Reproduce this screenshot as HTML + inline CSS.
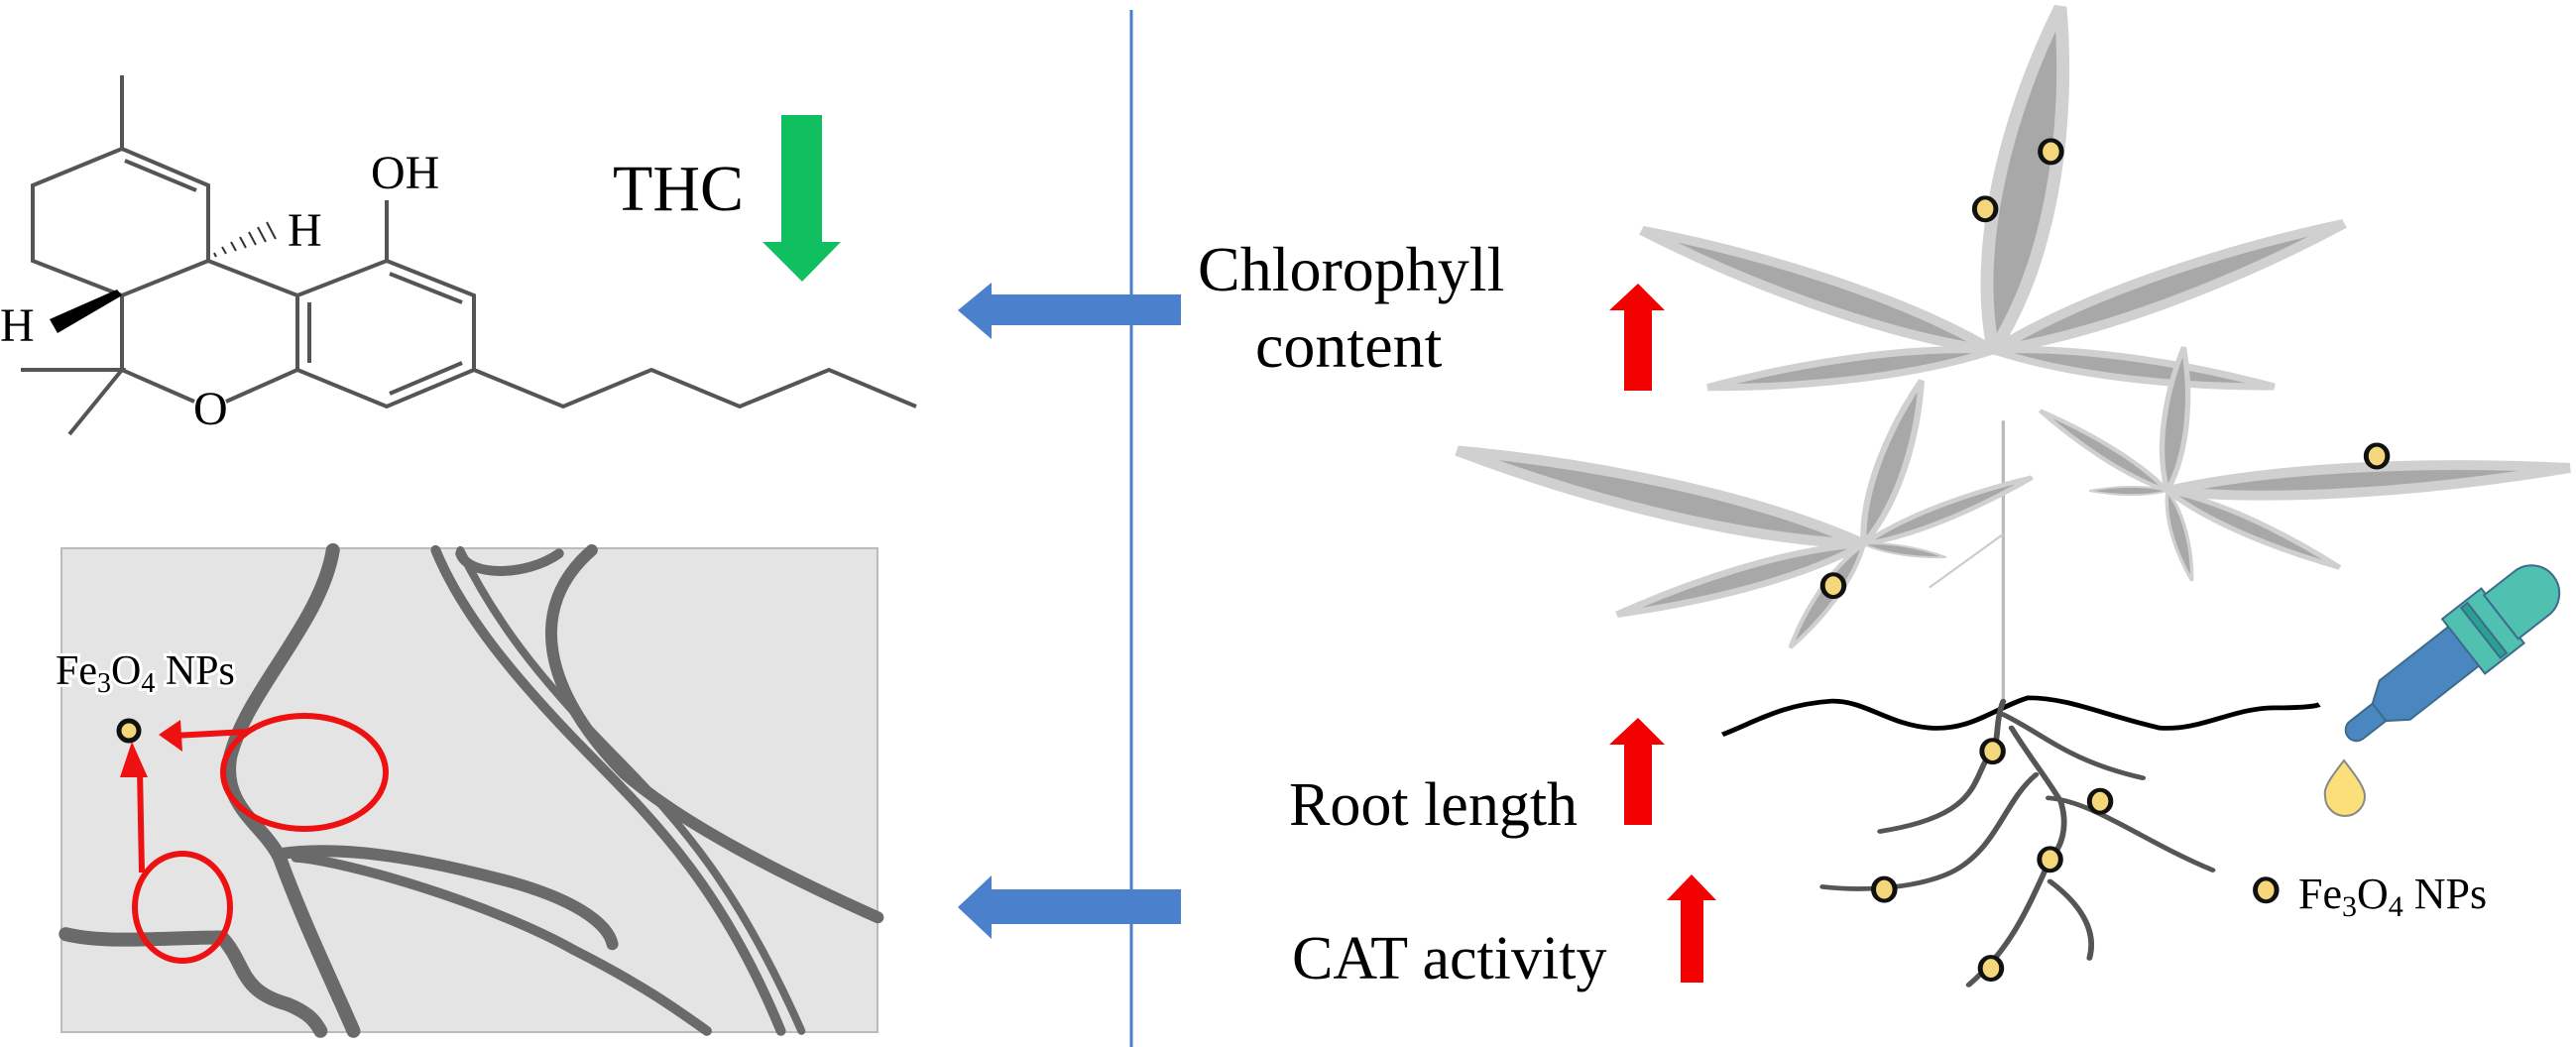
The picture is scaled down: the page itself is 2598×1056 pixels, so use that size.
<!DOCTYPE html>
<html><head><meta charset="utf-8"><style>
html,body{margin:0;padding:0;background:#fff}
svg{display:block}
text{font-family:"Liberation Serif",serif;fill:#000}
</style></head><body>
<svg width="2598" height="1056" viewBox="0 0 2598 1056" xmlns="http://www.w3.org/2000/svg">
<!-- molecule -->
<g stroke="#555" stroke-width="4" fill="none">
<polyline points="123,76 123,150 33,187 33,263 123,298 210,263 210,187 123,150"/>
<line x1="126" y1="162" x2="198" y2="192"/>
<line x1="123" y1="298" x2="123" y2="373"/>
<line x1="210" y1="263" x2="300" y2="298"/>
<polyline points="21,373 123,373 70,438"/>
<polyline points="123,373 196,405"/>
<polyline points="228,405 300,373 300,298 390,263 478,298 478,373 390,410 300,373"/>
<line x1="312" y1="305" x2="312" y2="366"/>
<line x1="393" y1="276" x2="466" y2="305"/>
<line x1="393" y1="397" x2="466" y2="366"/>
<line x1="390" y1="263" x2="390" y2="202"/>
<polyline points="478,373 568,410 657,373 746,410 836,373 924,410"/>
</g>
<polygon points="123,298 118,292 50,322 58,336" fill="#000"/>
<g stroke="#333" stroke-width="2">
<line x1="218" y1="259" x2="216" y2="255"/><line x1="228" y1="256" x2="224" y2="249"/><line x1="238" y1="253" x2="233" y2="244"/><line x1="248" y1="250" x2="242" y2="239"/><line x1="258" y1="247" x2="251" y2="234"/><line x1="268" y1="244" x2="260" y2="229"/><line x1="278" y1="241" x2="269" y2="224"/>
</g>
<text x="290" y="248" font-size="48">H</text>
<text x="0" y="344" font-size="48">H</text>
<text x="374" y="190" font-size="48">OH</text>
<text x="195" y="428" font-size="48">O</text>
<text x="618" y="212" font-size="66">THC</text>
<polygon points="788,116 829,116 829,244 848,244 809,284 769,244 788,244" fill="#10c060"/>
<!-- divider -->
<line x1="1141" y1="10" x2="1141" y2="1056" stroke="#4a7fc8" stroke-width="3"/>
<g fill="#4a80cc">
<polygon points="1191,297 1000,297 1000,285 966,313 1000,342 1000,328 1191,328"/>
<polygon points="1191,897 1000,897 1000,883 966,915 1000,947 1000,932 1191,932"/>
</g>
<!-- TEM image -->
<rect x="62" y="553" width="823" height="488" fill="#e4e4e4" stroke="#bbb" stroke-width="2"/>
<g transform="translate(0,528) scale(0.829,0.3367)" fill="none" stroke="#6a6a6a" stroke-linecap="round">
<path vector-effect="non-scaling-stroke" stroke-width="14" d="M405,80 C390,300 300,500 280,700 C270,850 320,900 340,1000 C370,1200 400,1350 430,1520"/>
<path vector-effect="non-scaling-stroke" stroke-width="10" d="M530,80 C560,260 620,450 720,700 C800,900 880,1100 950,1520"/>
<path vector-effect="non-scaling-stroke" stroke-width="8" d="M560,80 C600,280 650,450 750,700 C830,900 900,1100 975,1520"/>
<path vector-effect="non-scaling-stroke" stroke-width="12" d="M720,80 C640,250 660,500 760,750 C830,900 950,1050 1068,1180"/>
<path vector-effect="non-scaling-stroke" stroke-width="10" d="M560,90 C570,160 640,160 680,90"/>
<path vector-effect="non-scaling-stroke" stroke-width="12" d="M340,990 C420,960 520,1010 600,1060 C700,1120 740,1200 745,1260"/>
<path vector-effect="non-scaling-stroke" stroke-width="10" d="M360,1000 C420,1010 600,1140 700,1280 C780,1380 820,1450 860,1520"/>
<path vector-effect="non-scaling-stroke" stroke-width="14" d="M80,1230 C130,1260 200,1240 270,1240 C300,1320 290,1400 350,1440 C380,1470 385,1500 390,1520"/>
</g>
<g fill="none" stroke="#ee1111" stroke-width="6">
<ellipse cx="307" cy="779" rx="82" ry="57"/>
<ellipse cx="184" cy="915" rx="48" ry="54"/>
<line x1="249" y1="738" x2="175" y2="742"/>
<line x1="143" y1="880" x2="141" y2="775"/>
</g>
<polygon points="160,741 182,726 184,758" fill="#ee1111"/>
<polygon points="133,748 121,784 149,784" fill="#ee1111"/>
<circle cx="130" cy="737" r="10" fill="#f3d77a" stroke="#111" stroke-width="5"/>
<text x="56" y="690" font-size="42" stroke="#fff" stroke-width="6" paint-order="stroke">Fe<tspan font-size="28" dy="8">3</tspan><tspan dy="-8">O</tspan><tspan font-size="28" dy="8">4</tspan><tspan dy="-8"> NPs</tspan></text>
<!-- right labels -->
<text x="1208" y="293" font-size="64">Chlorophyll</text>
<text x="1266" y="370" font-size="64">content</text>
<text x="1300" y="832" font-size="62">Root length</text>
<text x="1303" y="987" font-size="62">CAT activity</text>
<g fill="#f30000">
<polygon points="1638,394 1666,394 1666,313 1679,313 1652,286 1623,313 1638,313"/>
<polygon points="1638,832 1666,832 1666,751 1679,751 1652,724 1623,751 1638,751"/>
<polygon points="1695,991 1718,991 1718,908 1731,908 1706,882 1681,908 1695,908"/>
</g>
<!-- plant -->
<g transform="translate(1300,0) scale(0.828,0.6735)">
<line x1="870" y1="630" x2="870" y2="1060" stroke="#bbb" stroke-width="4"/>
<line x1="870" y1="800" x2="780" y2="880" stroke="#ccc" stroke-width="3"/>
<g fill="#a8a8a8" stroke="#d0d0d0" stroke-width="3">
<g transform="translate(858,525)">
<path transform="rotate(-81) scale(5.21)" d="M0,0 C30,-10 70,-7 100,0 C70,7 30,10 0,0"/>
<path transform="rotate(202.8) scale(4.64)" d="M0,0 C30,-7 70,-5 100,0 C70,5 30,7 0,0"/>
<path transform="rotate(-24) scale(4.67)" d="M0,0 C30,-7 70,-5 100,0 C70,5 30,7 0,0"/>
<path transform="rotate(171) scale(3.52)" d="M0,0 C30,-7 70,-5 100,0 C70,5 30,7 0,0"/>
<path transform="rotate(9) scale(3.46)" d="M0,0 C30,-7 70,-5 100,0 C70,5 30,7 0,0"/>
</g>
<g transform="translate(700,815)">
<path transform="rotate(195.8) scale(5.14)" d="M0,0 C30,-7 70,-5 100,0 C70,5 30,7 0,0"/>
<path transform="rotate(-74) scale(2.55)" d="M0,0 C30,-10 70,-7 100,0 C70,7 30,10 0,0"/>
<path transform="rotate(-26) scale(2.28)" d="M0,0 C30,-8 70,-5 100,0 C70,5 30,8 0,0"/>
<path transform="rotate(160.7) scale(3.18)" d="M0,0 C30,-8 70,-5 100,0 C70,5 30,8 0,0"/>
<path transform="rotate(11) scale(1.02)" d="M0,0 C30,-10 70,-7 100,0 C70,7 30,10 0,0"/>
<path transform="rotate(120) scale(1.79)" d="M0,0 C30,-10 70,-7 100,0 C70,7 30,10 0,0"/>
</g>
<g transform="translate(1070,735)">
<path transform="rotate(-84.7) scale(2.16)" d="M0,0 C30,-10 70,-7 100,0 C70,7 30,10 0,0"/>
<path transform="rotate(217.7) scale(1.96)" d="M0,0 C30,-8 70,-5 100,0 C70,5 30,8 0,0"/>
<path transform="rotate(-4) scale(4.91)" d="M0,0 C30,-6 70,-4 100,0 C70,4 30,6 0,0"/>
<path transform="rotate(180) scale(0.95)" d="M0,0 C30,-10 70,-7 100,0 C70,7 30,10 0,0"/>
<path transform="rotate(28.7) scale(2.39)" d="M0,0 C30,-8 70,-5 100,0 C70,5 30,8 0,0"/>
<path transform="rotate(77.5) scale(1.38)" d="M0,0 C30,-10 70,-7 100,0 C70,7 30,10 0,0"/>
</g>
</g>
<path d="M528,1100 C570,1080 600,1055 660,1050 C700,1048 730,1085 780,1090 C830,1095 860,1060 900,1045 C950,1045 990,1070 1060,1090 C1110,1095 1150,1060 1200,1060 C1230,1060 1250,1058 1255,1055" fill="none" stroke="#000" stroke-width="7"/>
<g fill="none" stroke="#555" stroke-width="7" stroke-linecap="round">
<path d="M870,1050 C860,1080 865,1110 857,1125 C830,1160 850,1220 720,1245"/>
<path d="M870,1070 C920,1100 950,1140 1040,1165"/>
<path d="M880,1090 C900,1130 920,1160 940,1200 C950,1240 940,1270 927,1287 C900,1360 880,1420 828,1475"/>
<path d="M910,1160 C870,1200 860,1280 800,1310 C760,1330 700,1335 650,1328"/>
<path d="M925,1195 C980,1200 1040,1260 1125,1303"/>
<path d="M927,1320 C960,1350 985,1390 975,1435"/>
</g>
<g fill="#f3d77a" stroke="#111" stroke-width="6">
<ellipse cx="928" cy="227" rx="13" ry="17"/><ellipse cx="848" cy="313" rx="13" ry="17"/>
<ellipse cx="1325" cy="683" rx="13" ry="17"/><ellipse cx="663" cy="877" rx="13" ry="17"/>
<ellipse cx="857" cy="1125" rx="13" ry="17"/><ellipse cx="988" cy="1200" rx="13" ry="17"/>
<ellipse cx="927" cy="1287" rx="13" ry="17"/><ellipse cx="725" cy="1332" rx="13" ry="17"/>
<ellipse cx="855" cy="1450" rx="13" ry="17"/><ellipse cx="1190" cy="1333" rx="13" ry="17"/>
</g>
</g>
<text x="2318" y="916" font-size="44">Fe<tspan font-size="30" dy="8">3</tspan><tspan dy="-8">O</tspan><tspan font-size="30" dy="8">4</tspan><tspan dy="-8"> NPs</tspan></text>
<!-- dropper -->
<g transform="translate(2368,743) rotate(-38)" stroke="#3d6b8a" stroke-width="2">
<rect x="0" y="-11" width="50" height="22" rx="11" fill="#4a86c0"/>
<path d="M40,-11 L60,-25 L150,-25 L150,25 L60,25 L40,11 Z" fill="#4a86c0"/>
<rect x="148" y="-35" width="50" height="70" fill="#50c0b0"/>
<rect x="170" y="-32" width="8" height="64" fill="#2aa090"/>
<path d="M196,-28 L235,-28 A28,28 0 0 1 235,28 L196,28 Z" fill="#50c0b0"/>
</g>
<path d="M2364,767 C2350,785 2343,795 2345,803 A20,20 0 0 0 2385,803 C2385,795 2378,785 2364,767 Z" fill="#fbe07a" stroke="#888" stroke-width="2"/>
</svg>
</body></html>
